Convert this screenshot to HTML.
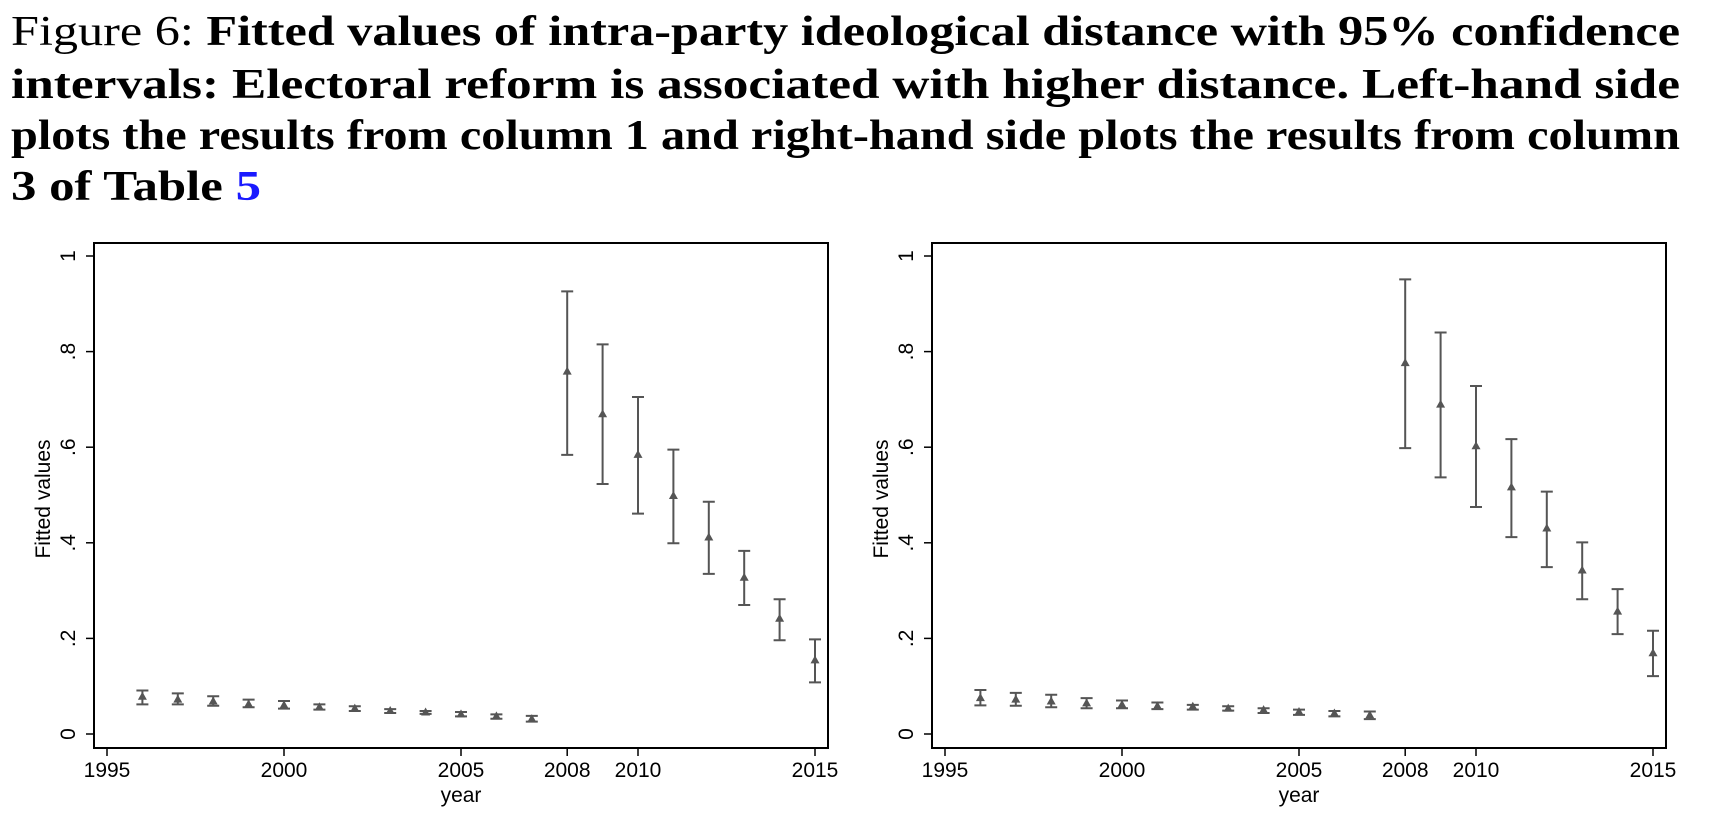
<!DOCTYPE html>
<html><head><meta charset="utf-8"><style>
body{margin:0;background:#fff;width:1710px;height:814px;overflow:hidden}
svg{display:block}
.ttl{font-family:"Liberation Serif",serif;font-size:42px;fill:#000}
.tk{font-family:"Liberation Sans",sans-serif;font-size:21px;fill:#000}
</style></head><body>
<svg id="fig" width="1710" height="814">
<g>
<text class="ttl" x="11" y="45" textLength="1669" lengthAdjust="spacingAndGlyphs">Figure 6: <tspan font-weight="bold">Fitted values of intra-party ideological distance with 95% confidence</tspan></text>
<text class="ttl" x="11" y="98" textLength="1669" lengthAdjust="spacingAndGlyphs" font-weight="bold">intervals:  Electoral reform is associated with higher distance.  Left-hand side</text>
<text class="ttl" x="11" y="149" textLength="1669" lengthAdjust="spacingAndGlyphs" font-weight="bold">plots the results from column 1 and right-hand side plots the results from column</text>
<text class="ttl" x="11" y="200" textLength="250" lengthAdjust="spacingAndGlyphs" font-weight="bold">3 of Table <tspan fill="#1a1aff">5</tspan></text>
</g>
</svg>
<script>
const years=[1996,1997,1998,1999,2000,2001,2002,2003,2004,2005,2006,2007,2008,2009,2010,2011,2012,2013,2014,2015];
const leftFit=[.078,.072,.068,.062,.060,.056,.053,.048,.045,.041,.037,.031,.758,.669,.584,.498,.411,.327,.241,.154];
const leftHi=[.091,.085,.079,.072,.069,.062,.058,.052,.048,.046,.041,.038,.926,.815,.705,.595,.486,.383,.282,.198];
const leftLo=[.062,.062,.059,.056,.053,.051,.048,.044,.042,.037,.032,.026,.584,.523,.461,.399,.335,.270,.196,.108];
const rightFit=[.075,.072,.068,.064,.061,.058,.057,.053,.050,.046,.043,.039,.776,.689,.602,.516,.430,.342,.256,.169];
const rightHi=[.092,.086,.082,.075,.070,.066,.061,.058,.054,.051,.048,.047,.951,.840,.728,.617,.507,.401,.303,.216];
const rightLo=[.060,.059,.056,.054,.054,.052,.051,.049,.044,.040,.037,.031,.598,.537,.475,.412,.349,.282,.209,.121];
const xTicks=[1995,2000,2005,2008,2010,2015];
const yTicks=[0,.2,.4,.6,.8,1];
const yTickLabels=["0",".2",".4",".6",".8","1"];

const NS="http://www.w3.org/2000/svg";
const svg=document.getElementById('fig');
function mk(tag,attrs,parent){const e=document.createElementNS(NS,tag);for(const k in attrs)e.setAttribute(k,attrs[k]);parent.appendChild(e);return e;}

function panel(ox,fit,hi,lo,name){
  const g=mk('g',{},svg);
  
  
  const x=v=>ox+13+(v-1995)*35.4;
  const y=v=>734-v*478;
  const fr=mk('rect',{x:ox,y:243,width:734,height:505,fill:'none',stroke:'#000','stroke-width':2},g);
  
  
  yTicks.forEach((t,i)=>{
    const l=mk('line',{x1:ox-8,x2:ox,y1:y(t),y2:y(t),stroke:'#000','stroke-width':1.5},g);
    
    
    const tx=mk('text',{class:'tk','text-anchor':'middle',transform:`translate(${ox-19},${y(t)}) rotate(-90)`},g);
    tx.textContent=yTickLabels[i];
    
    
  });
  xTicks.forEach(t=>{
    const l=mk('line',{x1:x(t),x2:x(t),y1:748,y2:756,stroke:'#000','stroke-width':1.5},g);
    
    
    const tx=mk('text',{class:'tk','text-anchor':'middle',x:x(t),y:777},g);
    tx.textContent=t;
    
    
  });
  const xt=mk('text',{class:'tk','text-anchor':'middle',x:ox+367,y:802},g);
  xt.textContent='year';
  
  
  const yt=mk('text',{class:'tk','text-anchor':'middle',transform:`translate(${ox-44},499) rotate(-90)`,'font-size':20},g);
  yt.textContent='Fitted values';
  
  
  years.forEach((yr,i)=>{
    const cx=x(yr);
    const e=mk('path',{d:`M${cx},${y(hi[i])}V${y(lo[i])}M${cx-6},${y(hi[i])}H${cx+6}M${cx-6},${y(lo[i])}H${cx+6}`,stroke:'#555','stroke-width':2,fill:'none'},g);
    
    
    const cy=y(fit[i]);
    const m=mk('path',{d:`M${cx},${cy-5}L${cx+4.5},${cy+3}L${cx-4.5},${cy+3}Z`,fill:'#555'},g);
    
    
  });
}
panel(94,leftFit,leftHi,leftLo,'left-chart');
panel(932,rightFit,rightHi,rightLo,'right-chart');
</script>
</body></html>
